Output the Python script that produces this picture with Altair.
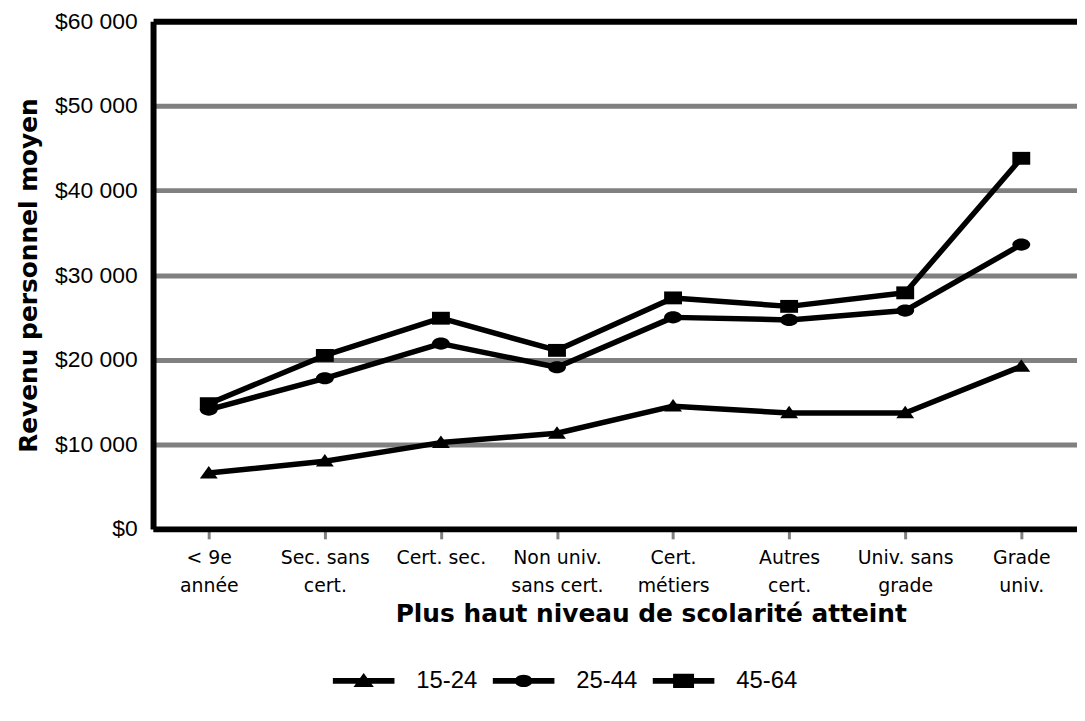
import altair as alt
import pandas as pd

# ---- data ----
categories = ["< 9e|année", "Sec. sans|cert.", "Cert. sec.", "Non univ.|sans cert.",
              "Cert.|métiers", "Autres|cert.", "Univ. sans|grade", "Grade|univ."]
groups = ["15-24", "25-44", "45-64"]
rev_15_24 = [6600, 8000, 10200, 11300, 14500, 13700, 13700, 19200]
rev_25_44 = [14100, 17800, 21900, 19100, 25000, 24700, 25800, 33600]
rev_45_64 = [14800, 20500, 24900, 21100, 27300, 26300, 27900, 43800]
y_ticks = [0, 10000, 20000, 30000, 40000, 50000, 60000]

series = {"15-24": rev_15_24, "25-44": rev_25_44, "45-64": rev_45_64}
rows = []
for g in groups:
    for c, v in zip(categories, series[g]):
        rows.append({"niveau": c, "groupe": g, "revenu": v})
df = pd.DataFrame(rows)

# ---- marker styles ----
marker_paths = [
    "M0,-0.8L1,0.6L-1,0.6Z",
    "M-1,0A1,0.68,0,1,1,1,0A1,0.68,0,1,1,-1,0Z",
    "M-1,-0.72L1,-0.72L1,0.72L-1,0.72Z",
]
legend_paths = [
    "M-1,-0.095L1,-0.095L1,0.095L-1,0.095Z M0,-0.26L0.33,0.2L-0.33,0.2Z",
    "M-1,-0.095L1,-0.095L1,0.095L-1,0.095Z M-0.29,0A0.29,0.2,0,1,1,0.29,0A0.29,0.2,0,1,1,-0.29,0Z",
    "M-1,-0.095L1,-0.095L1,0.095L-1,0.095Z M-0.34,-0.23L0.34,-0.23L0.34,0.23L-0.34,0.23Z",
]

FONT = "DejaVu Sans"
NUMFONT = "Liberation Sans"

x_enc = alt.X(
    "niveau:N",
    sort=categories,
    scale=alt.Scale(type="point", padding=0.48),
    axis=alt.Axis(
        title="Plus haut niveau de scolarité atteint",
        labelExpr="split(datum.label, '|')",
        labelAngle=0,
        labelFont=FONT,
        labelFontSize=19,
        labelColor="black",
        labelLineHeight=28,
        labelPadding=10,
        labelBaseline="top",
        tickColor="#808080",
        tickWidth=3,
        tickSize=10,
        domainColor="black",
        domainWidth=6,
        grid=False,
        titleFont=FONT,
        titleFontSize=25,
        titleFontWeight="bold",
        titleColor="black",
        titlePadding=6,
        titleX=501,
        titleAlign="center",
    ),
)

y_enc = alt.Y(
    "revenu:Q",
    scale=alt.Scale(domain=[0, 60000], nice=False),
    axis=alt.Axis(
        title="Revenu personnel moyen",
        values=y_ticks,
        labelExpr="'$' + replace(format(datum.value, ','), ',', ' ')",
        labelFont=NUMFONT,
        labelFontSize=23,
        labelColor="black",
        labelPadding=16,
        ticks=False,
        domainColor="black",
        domainWidth=6,
        grid=True,
        gridColor={"condition": {"test": "datum.value >= 60000 || datum.value <= 0", "value": "black"},
                   "value": "#808080"},
        gridWidth={"condition": {"test": "datum.value >= 60000", "value": 6}, "value": 5},
        gridOpacity=1,
        titleFont=FONT,
        titleFontSize=25,
        titleFontWeight="bold",
        titleColor="black",
        titlePadding=13,
    ),
)

base = alt.Chart(df)

lines = base.mark_line(color="black", strokeWidth=5.5, strokeJoin="round").encode(
    x=x_enc, y=y_enc, detail="groupe:N"
)

points = base.mark_point(filled=True, size=324, opacity=1, color="black", strokeWidth=0).encode(
    x=x_enc,
    y=y_enc,
    shape=alt.Shape("groupe:N", scale=alt.Scale(domain=groups, range=marker_paths), legend=None),
)

legend_layer = base.transform_filter("false").mark_point(filled=True, color="black").encode(
    x=x_enc,
    y=y_enc,
    shape=alt.Shape(
        "groupe:N",
        scale=alt.Scale(domain=groups, range=legend_paths),
        legend=alt.Legend(
            title=None,
            orient="none",
            legendX=181,
            legendY=633,
            direction="horizontal",
            symbolSize=3844,
            symbolFillColor="black",
            symbolStrokeColor="black",
            symbolStrokeWidth=0,
            symbolOpacity=1,
            labelFont=NUMFONT,
            labelFontSize=24,
            labelColor="black",
            labelOffset=22,
            columnPadding=15,
            padding=0,
        ),
    ),
)

chart = (
    alt.layer(lines, points, legend_layer)
    .resolve_scale(shape="independent")
    .resolve_legend(shape="independent")
    .properties(
        width=930,
        height=511,
        autosize=alt.AutoSizeParams(type="none"),
        padding={"left": 146, "top": 11, "right": 0, "bottom": 183},
        background="white",
    )
    .configure_view(stroke=None)
)

chart.save("out.html", embed_options={"renderer": "svg", "actions": False})
